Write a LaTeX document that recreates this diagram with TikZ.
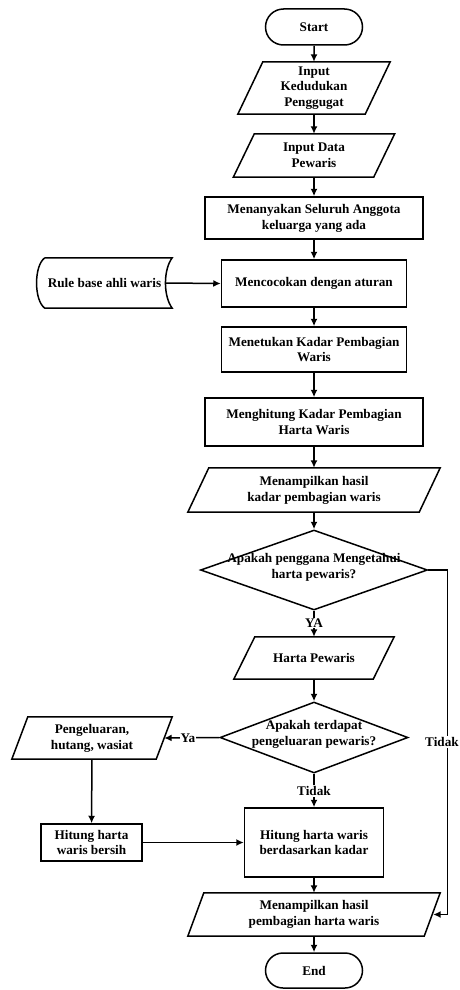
\documentclass[tikz,border=0pt]{standalone}
\usepackage{fontspec}
\setmainfont{Liberation Serif}
\usetikzlibrary{arrows.meta,shapes.geometric,shapes.misc}
\newcommand{\zerobox}[1]{\smash{\makebox[0pt]{\begin{tabular}{@{}c@{}}#1\end{tabular}}}}
\newcommand{\paraline}[2]{\draw[ln] ([xshift=#2pt]#1.north west) -- (#1.north east) -- ([xshift=-#2pt]#1.south east) -- (#1.south west) -- cycle;}
\begin{document}
\begin{tikzpicture}[x=1pt,y={(0pt,-1pt)},
  ln/.style={line width=1.5pt},
  base/.style={font=\fontsize{13.2}{15.8}\selectfont\bfseries, align=center, inner sep=0pt},
  proc/.style={base, draw, rectangle, ln},
  term/.style={base, draw, rounded rectangle, ln},
  io/.style={base},
  dec/.style={base, draw, diamond, ln},
  arr/.style={ln, -{Latex[length=7.5pt,width=7pt]}},
  lbl/.style={font=\fontsize{13.2}{15.8}\selectfont\bfseries, fill=white, inner sep=1pt}]
\useasboundingbox (0,0) rectangle (460,990);

\node[term, minimum width=97pt, minimum height=36pt] (start) at (314,27) {Start};
\node[io, minimum width=152pt, minimum height=52pt] (in1) at (314,88) {Input\\Kedudukan\\Penggugat};
\node[io, minimum width=161pt, minimum height=43pt] (in2) at (314,155.5) {Input Data\\Pewaris};
\node[proc, minimum width=218pt, minimum height=42pt] (ask) at (314,218) {Menanyakan Seluruh Anggota\\keluarga yang ada};
\node[proc, minimum width=185pt, minimum height=47pt] (match) at (314,283.5) {Mencocokan dengan aturan};
\node[base, minimum width=135pt, minimum height=50pt] (rule) at (104.5,283) {Rule base ahli waris};
\node[proc, minimum width=185pt, minimum height=45pt] (kadar) at (314,349.5) {Menetukan Kadar Pembagian\\Waris};
\node[proc, minimum width=218pt, minimum height=48pt] (hitung) at (314,422) {Menghitung Kadar Pembagian\\Harta Waris};
\node[io, minimum width=252pt, minimum height=44pt] (show1) at (314,490) {Menampilkan hasil\\kadar pembagian waris};
\node[dec, minimum width=227pt, minimum height=80pt] (d1) at (314,570) {\zerobox{Apakah penggana Mengetahui\\harta pewaris?}};
\node[io, minimum width=160pt, minimum height=42pt] (hp) at (314,658) {Harta Pewaris};
\node[dec, minimum width=188pt, minimum height=71pt] (d2) at (314,737.5) {\zerobox{Apakah terdapat\\pengeluaran pewaris?}};
\node[io, minimum width=160pt, minimum height=42pt] (peng) at (92,738) {Pengeluaran,\\hutang, wasiat};
\node[proc, minimum width=101pt, minimum height=37pt] (net) at (91.5,842.5) {Hitung harta\\waris bersih};
\node[proc, minimum width=139pt, minimum height=69pt] (calc) at (314,842.5) {Hitung harta waris\\berdasarkan kadar};
\node[io, minimum width=252pt, minimum height=43pt] (show2) at (314,914.5) {Menampilkan hasil\\pembagian harta waris};
\node[term, minimum width=97pt, minimum height=35pt] (end) at (314,970.5) {End};

\paraline{in1}{25}
\paraline{in2}{21}
\paraline{show1}{21}
\paraline{hp}{21}
\paraline{peng}{16}
\paraline{show2}{16}

\draw[ln] ([xshift=8pt]rule.north west) -- (rule.north east)
  .. controls ([xshift=-9pt,yshift=-12pt]rule.north east) and ([xshift=-9pt,yshift=12pt]rule.south east) .. (rule.south east)
  -- ([xshift=8pt]rule.south west)
  .. controls ([xshift=-3pt,yshift=8pt]rule.south west) and ([xshift=-3pt,yshift=-8pt]rule.north west) .. ([xshift=8pt]rule.north west);

\draw[arr] (start) -- (in1);
\draw[arr] (in1) -- (in2);
\draw[arr] (in2) -- (ask);
\draw[arr] (ask) -- (match);
\draw[arr] ([xshift=-7pt]rule.east) -- (match.west);
\draw[arr] (match) -- (kadar);
\draw[arr] (kadar) -- (hitung);
\draw[arr] (hitung) -- (show1);
\draw[arr] (show1) -- (d1);
\draw[arr] (d1) -- (hp);
\draw[arr] (hp) -- (d2);
\draw[arr] (d2.west) -- ([xshift=-8pt]peng.east);
\draw[arr] (peng) -- (net);
\draw[arr] (net) -- (calc);
\draw[arr] (d2) -- (calc);
\draw[arr] (calc) -- (show2);
\draw[arr] (show2) -- (end);
\draw[arr] (d1.east) -- ++(19,0) |- ([xshift=-7pt]show2.east);

\node[lbl] (ya) at (314,623) {YA};
\node[lbl] (ya2) at (188,738) {Ya};
\node[lbl] (tidak1) at (314,791) {Tidak};
\node[lbl] (tidak2) at (442,742) {Tidak};
\end{tikzpicture}
\end{document}
